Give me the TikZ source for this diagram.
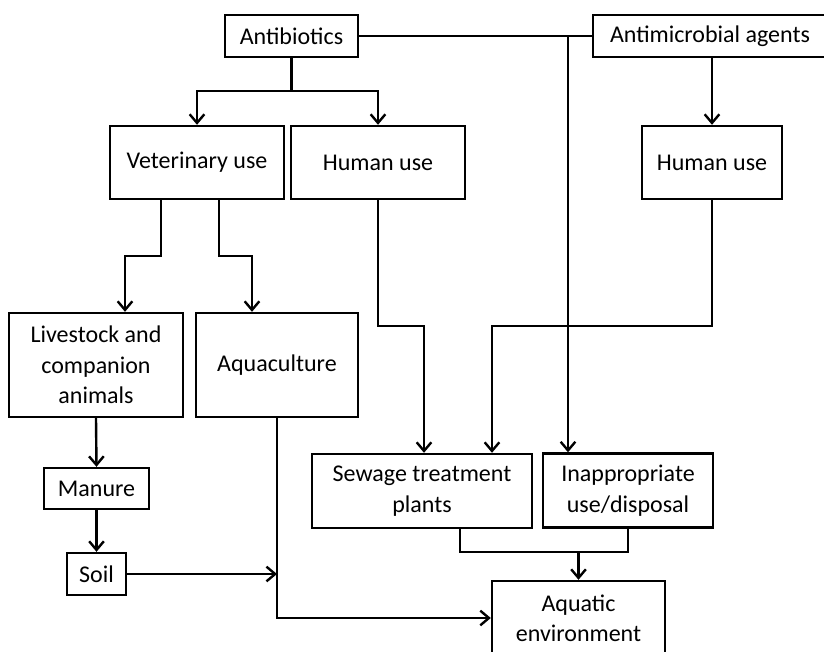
\documentclass[tikz,border=0pt]{standalone}
\usepackage{fontspec}
\setmainfont{Carlito}
\usepackage{tikz}
\usetikzlibrary{positioning,arrows.meta}
\tikzset{every picture/.style={line width=1.8pt}}
\tikzset{
  box/.style={draw, rectangle, inner sep=0pt, align=center, font=\fontsize{18}{22.8}\selectfont},
  arr/.style={-{Straight Barb[length=6.5pt,width=11pt]}}
}

\begin{document}
\begin{tikzpicture}[x=0.75pt,y=0.75pt,yscale=-1,xscale=1]

\useasboundingbox (0,0) rectangle (824,652);
\clip (0,0) rectangle (824,652);

%Sources
\node [box, minimum width=99.75pt, minimum height=31.5pt] (abx) at (291.5,36) {Antibiotics};
\node [box, minimum width=175.5pt, minimum height=31.5pt] (ama) at (710,36) {Antimicrobial agents};
%Uses
\node [box, minimum width=130.5pt, minimum height=54.75pt] (vet) at (197,162.5) {Veterinary use};
\node [box, minimum width=130.5pt, minimum height=54.75pt] (hum1) at (378,162.5) {Human use};
\node [box, minimum width=105pt, minimum height=54.75pt] (hum2) at (712,162.5) {Human use};
%Veterinary branch
\node [box, minimum width=130.5pt, minimum height=78pt] (live) at (96,365) {Livestock and\\companion\\animals};
\node [box, minimum width=121.5pt, minimum height=78pt] (aqc) at (277,365) {Aquaculture};
\node [box, minimum width=78.75pt, minimum height=30.75pt] (man) at (96.5,488.5) {Manure};
\node [box, minimum width=44.25pt, minimum height=31.5pt] (soil) at (96.5,574) {Soil};
%Routes
\node [box, minimum width=165pt, minimum height=55.5pt] (stp) at (422,491) {Sewage treatment\\plants};
\node [box, minimum width=127.5pt, minimum height=55.5pt] (inap) at (628,490.5) {Inappropriate\\use/disposal};
\node [box, minimum width=129.75pt, minimum height=55.5pt] (aq) at (578.5,618) {Aquatic\\environment};

%Junctions
\coordinate (j0) at (291.5,91);
\coordinate (j1) at (568,36);
\coordinate (vl) at (161,256);
\coordinate (vr) at (219,256);
\coordinate (ll) at (125,0);
\coordinate (al) at (252,0);
\coordinate (h1) at (424,326);
\coordinate (h2) at (492,326);
\coordinate (j4) at (460,552);
\coordinate (j5) at (277,574);

%Connectors
\draw (abx.east) -- (ama.west);
\draw (abx.south) -- (j0);
\draw [arr] (j0) -| (vet.north);
\draw [arr] (j0) -| (hum1.north);
\draw [arr] (ama.south -| hum2.north) -- (hum2.north);
\draw [arr] (j1) -- (j1 |- inap.north);

\draw [arr] (vet.south -| vl) -- (vl) -| (live.north -| ll);
\draw [arr] (vet.south -| vr) -- (vr) -| (aqc.north -| al);

\draw [arr] (hum1.south) |- (h1) -- (h1 |- stp.north);
\draw [arr] (hum2.south) |- (h2) -- (h2 |- stp.north);

\draw [arr] (live.south) -- (man.north);
\draw [arr] (man.south) -- (soil.north);
\draw [arr] (soil.east) -- (j5);
\draw [arr] (aqc.south) |- (aq.west);

\draw (stp.south -| j4) -- (j4) -| (inap.south);
\draw [arr] (j4 -| aq.north) -- (aq.north);

\end{tikzpicture}
\end{document}
